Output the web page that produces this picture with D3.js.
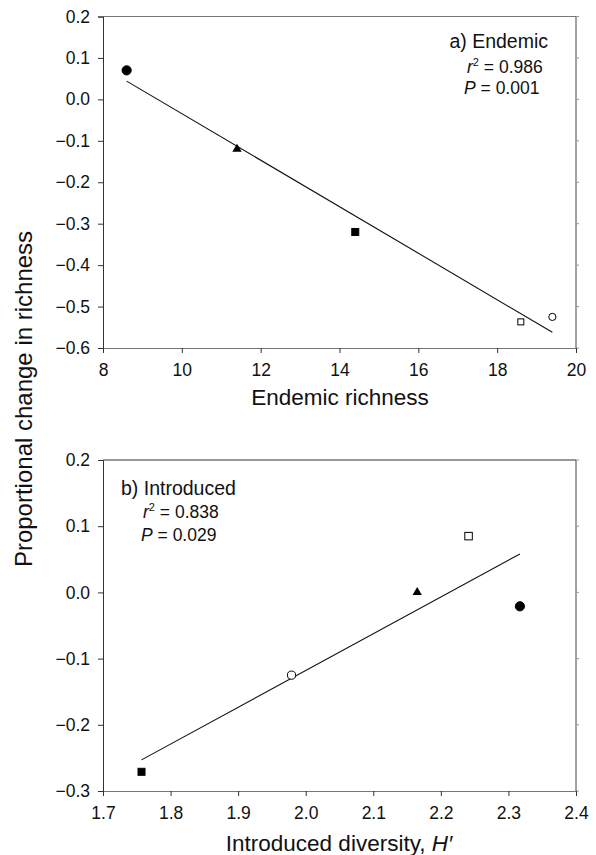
<!DOCTYPE html>
<html><head><meta charset="utf-8">
<script src="https://cdn.jsdelivr.net/npm/d3@7"></script>
<style>body{margin:0;background:#fff}svg text{font-family:"Liberation Sans",Arial,Helvetica,sans-serif;fill:#111}</style>
</head><body><svg id="c" width="596" height="855"></svg>
<script>
// Panel a: Endemic
const endemicX = [8.6, 11.4, 14.4, 18.6, 19.4];
const endemicY = [0.070, -0.120, -0.320, -0.537, -0.525];
const endemicMarkers = ["circleFilled", "triangleFilled", "squareFilled", "squareOpen", "circleOpen"];
const endemicFitX = [8.6, 19.4];
const endemicFitY = [0.044, -0.562];
const endemicXTicks = [8, 10, 12, 14, 16, 18, 20];
const endemicYTicks = [0.2, 0.1, 0.0, -0.1, -0.2, -0.3, -0.4, -0.5, -0.6];

// Panel b: Introduced
const introX = [1.757, 1.979, 2.165, 2.241, 2.317];
const introY = [-0.271, -0.125, 0.000, 0.085, -0.021];
const introMarkers = ["squareFilled", "circleOpen", "triangleFilled", "squareOpen", "circleFilled"];
const introFitX = [1.757, 2.317];
const introFitY = [-0.253, 0.058];
const introXTicks = [1.7, 1.8, 1.9, 2.0, 2.1, 2.2, 2.3, 2.4];
const introYTicks = [0.2, 0.1, 0.0, -0.1, -0.2, -0.3];

const svg = d3.select("#c");
const fmtY = v => (v < 0 ? "\u2212" : "") + Math.abs(v).toFixed(1);

function panel(o) {
  const x = d3.scaleLinear().domain(o.xd).range([103, 576]);
  const y = d3.scaleLinear().domain(o.yd).range(o.yr);
  const g = svg.append("g");
  // frame
  g.append("line").attr("x1",103).attr("x2",576).attr("y1",o.yr[1]).attr("y2",o.yr[1]).attr("stroke",o.topCol).attr("stroke-width",1);
  g.append("line").attr("x1",576).attr("x2",576).attr("y1",o.yr[0]).attr("y2",o.yr[1]).attr("stroke","#444").attr("stroke-width",1);
  g.selectAll(".rt").data(o.yt).enter().append("line")
    .attr("x1",576).attr("x2",579).attr("y1",d=>y(d)).attr("y2",d=>y(d)).attr("stroke","#999");
  const yAxis = g.append("g").attr("transform","translate(103,0)")
    .call(d3.axisLeft(y).tickValues(o.yt).tickFormat(fmtY).tickSize(5).tickPadding(8));
  const xAxis = g.append("g").attr("transform",`translate(0,${o.yr[0]})`)
    .call(d3.axisBottom(x).tickValues(o.xt).tickFormat(o.xf).tickSize(5).tickPadding(11));
  [yAxis, xAxis].forEach(a => {
    a.select(".domain").attr("stroke","#333");
    a.selectAll(".tick line").attr("stroke","#333");
    a.selectAll("text").style("font-size","17.5px").attr("fill","#111");
  });
  xAxis.select(".domain").attr("stroke","#777");
  // fit line
  g.append("line").attr("x1",x(o.fx[0])).attr("y1",y(o.fy[0])).attr("x2",x(o.fx[1])).attr("y2",y(o.fy[1]))
    .attr("stroke","#111").attr("stroke-width",1.1);
  // points
  o.px.forEach((px, i) => {
    const cx = x(px), cy = y(o.py[i]), m = o.pm[i];
    if (m.startsWith("circle")) {
      g.append("circle").attr("cx",cx).attr("cy",cy).attr("r", m==="circleFilled"?4.6:o.openR)
        .attr("fill", m==="circleFilled"?"#000":"#fff").attr("stroke","#000").attr("stroke-width",1);
    } else if (m.startsWith("square")) {
      const s = m==="squareFilled"?7:o.openSq;
      g.append("rect").attr("x",cx-s/2).attr("y",cy-s/2).attr("width",s).attr("height",s)
        .attr("fill", m==="squareFilled"?"#000":"#fff").attr("stroke","#000").attr("stroke-width",1);
    } else {
      const t = d3.symbol().type(d3.symbolTriangle).size(38);
      g.append("path").attr("d",t()).attr("transform",`translate(${cx},${cy})`).attr("fill","#000");
    }
  });
  return g;
}

panel({xd:[8,20], yd:[-0.6,0.2], yr:[348,16.5], xt:endemicXTicks, yt:endemicYTicks, topCol:"#777",
  xf:d3.format("d"), px:endemicX, py:endemicY, pm:endemicMarkers, fx:endemicFitX, fy:endemicFitY, openSq:6, openR:3.6});
panel({xd:[1.7,2.4], yd:[-0.3,0.2], yr:[791,460], xt:introXTicks, yt:introYTicks, topCol:"#333",
  xf:d3.format(".1f"), px:introX, py:introY, pm:introMarkers, fx:introFitX, fy:introFitY, openSq:7.5, openR:4.1});

// annotations
function stat(xp, yp, letter, val, sup) {
  const t = svg.append("text").attr("x",xp).attr("y",yp).style("font-size","17.5px");
  t.append("tspan").style("font-style","italic").text(letter);
  if (sup) t.append("tspan").attr("dy",-7).style("font-size","11px").text("2");
  t.append("tspan").attr("dy", sup?7:0).text(" = " + val);
}
svg.append("text").attr("x",548).attr("y",48).attr("text-anchor","end").style("font-size","19.5px").text("a) Endemic");
stat(467, 73, "r", "0.986", true);
stat(464, 94, "P", "0.001", false);
svg.append("text").attr("x",121).attr("y",495).style("font-size","19.5px").text("b) Introduced");
stat(143, 518, "r", "0.838", true);
stat(141, 541, "P", "0.029", false);

// axis titles
svg.append("text").attr("x",340).attr("y",405).attr("text-anchor","middle").style("font-size","22.5px").text("Endemic richness");
const xt2 = svg.append("text").attr("x",339).attr("y",851).attr("text-anchor","middle").style("font-size","22.5px");
xt2.append("tspan").text("Introduced diversity, ");
xt2.append("tspan").style("font-style","italic").text("H\u2032");
svg.append("text").attr("transform","translate(32,399) rotate(-90)").attr("text-anchor","middle").style("font-size","24px")
  .text("Proportional change in richness");
</script></body></html>
